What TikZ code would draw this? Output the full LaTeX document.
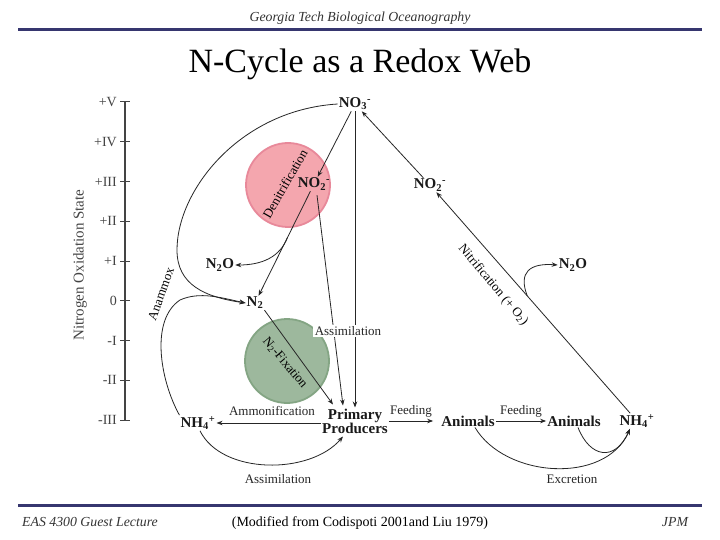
\documentclass[tikz,border=0pt]{standalone}
\usepackage{fontspec}
\setmainfont{Liberation Serif}
\usetikzlibrary{arrows.meta,calc}
\definecolor{navy}{HTML}{36366F}
\definecolor{redfill}{HTML}{F4A6AE}
\definecolor{redline}{HTML}{E8899A}
\definecolor{greenfill}{HTML}{9DB89D}
\definecolor{greenline}{HTML}{84A584}
\definecolor{axgray}{HTML}{444444}
\newcommand{\chemion}[3]{#1\textsubscript{#2}\textsuperscript{#3}}
\tikzset{
  lbl/.style={font=\fontsize{15}{14}\selectfont\bfseries, inner sep=1pt, text=black!90},
  sm/.style={font=\fontsize{13}{13}\selectfont, inner sep=1pt, text=black!85},
  arr/.style={draw=black!85, line width=0.8pt, -{Stealth[length=6pt,width=4.5pt]}},
  tick/.style={font=\fontsize{14}{14}\selectfont, text=axgray, anchor=east, inner sep=0pt},
  headtxt/.style={font=\fontsize{13.8}{14}\selectfont\itshape, text=black!80, inner sep=0pt},
  bigcirc/.style={circle, minimum size=84pt, inner sep=0pt, line width=1.8pt}
}
\begin{document}
\begin{tikzpicture}[x=1pt,y=-1pt]
\useasboundingbox (0,0) rectangle (720,540);
\fill[white] (0,0) rectangle (720,540);
% header / footer
\node[headtxt] (hdr) at (360,18) {Georgia Tech Biological Oceanography};
\draw[navy, line width=3pt] (18,30) -- (702,30);
\node[font=\fontsize{34}{34}\selectfont, inner sep=0pt] (title) at (360,64) {N-Cycle as a Redox Web};
\draw[navy, line width=3pt] (18,505) -- (702,505);
\node[headtxt, anchor=west] (ftl) at (22,522) {EAS 4300 Guest Lecture};
\node[font=\fontsize{14}{14}\selectfont, inner sep=0pt] (ftc) at (360,523) {(Modified from Codispoti 2001and Liu 1979)};
\node[headtxt] (ftr) at (675,522) {JPM};
% axis
\draw[axgray, line width=1.3pt] (125,102) -- (125,420);
\foreach \lab [count=\i from 0] in {+V,+IV,+III,+II,+I,0,-I,-II,-III} {
  \draw[axgray, line width=1pt] (120,102+39.75*\i) -- (130,102+39.75*\i);
  \node[tick] (t\i) at (117,102+39.75*\i) {\lab};
}
\node[font=\fontsize{15}{15}\selectfont, text=axgray, rotate=90, inner sep=0pt] (axlab) at (80,265) {Nitrogen Oxidation State};
% circles
\node[bigcirc, fill=redfill, draw=redline] (denit) at (288,185) {};
\node[bigcirc, fill=greenfill, draw=greenline] (nfix) at (287,361) {};
\node[font=\fontsize{13}{13}\selectfont, rotate=60, inner sep=0pt] (denitlab) at (285,184) {Denitrification};
\node[font=\fontsize{13}{13}\selectfont, rotate=-50, inner sep=0pt] (nfixlab) at (285,363) {N\textsubscript{2}-Fixation};
% species nodes
\node[lbl] (no3) at (355,104) {\chemion{NO}{3}{-}};
\node[lbl] (no2a) at (314,184) {\chemion{NO}{2}{-}};
\node[lbl] (no2b) at (430,185) {\chemion{NO}{2}{-}};
\node[lbl] (n2oa) at (220,265) {N\textsubscript{2}O};
\node[lbl] (n2ob) at (573,265) {N\textsubscript{2}O};
\node[lbl] (n2) at (255,303) {N\textsubscript{2}};
\node[lbl] (nh4a) at (198,423) {\chemion{NH}{4}{+}};
\node[lbl, align=center] (pp) at (355,421) {Primary\\Producers};
\node[lbl] (an1) at (468,421) {Animals};
\node[lbl] (an2) at (574,421) {Animals};
\node[lbl] (nh4b) at (637,421) {\chemion{NH}{4}{+}};
% denitrification
\draw[arr] (no3) -- (no2a);
\draw[arr] (no2a) -- (n2);
\coordinate (br) at ($(no2a)!0.45!(n2)$);
\draw[arr] (br) .. controls (280,257) and (262,265) .. (n2oa.east);
% assimilation of nitrate and nitrite
\draw[arr] (no3.south) -- (no3.south |- pp.north);
\draw[arr] ([xshift=3pt,yshift=-4pt]no2a.south) -- ([xshift=-12pt,yshift=2pt]pp.north);
\node[sm, fill=white, inner sep=1.5pt] (assim1) at (348,331) {Assimilation};
% N2 fixation
\draw[arr] (n2.south east) -- ([xshift=-22pt,yshift=3pt]pp.north);
% NO3 to N2 big curve
\draw[arr] (no3.west) .. controls (240,110) and (177,190) .. (177,250) .. controls (177,285) and (205,297) .. (n2.west);
% anammox
\draw[arr] (nh4a.north west) .. controls (160,380) and (150,320) .. (180,300) .. controls (200,291) and (222,298) .. (n2.west);
\node[font=\fontsize{13}{13}\selectfont, rotate=70, inner sep=0pt] (anamlab) at (161,294) {Anammox};
% ammonification
\draw[arr] (pp.west |- nh4a) -- (nh4a.east);
\node[sm] (ammlab) at (272,411) {Ammonification};
% assimilation of ammonium
\draw[arr] ([xshift=2pt]nh4a.south) .. controls (222,475) and (310,475) .. ([xshift=-12pt,yshift=-2pt]pp.south);
\node[sm] (assim2) at (278,479) {Assimilation};
% feeding
\draw[arr, shorten >=7pt] (pp.east |- an1) -- (an1.west);
\node[sm] (feed1) at (411,411) {Feeding};
\draw[arr] (an1.east) -- (an2.west);
\node[sm] (feed2) at (521,411) {Feeding};
% nitrification
\draw[arr] (nh4b) -- (no2b);
\draw[arr] (no2b) -- (no3);
\coordinate (nb) at ($(nh4b)!0.53!(no2b)$);
\draw[arr] (nb) .. controls (518,272) and (530,263) .. (n2ob.west);
\node[font=\fontsize{13}{13}\selectfont, rotate=-50, inner sep=0pt] (nitrlab) at (493,285) {Nitrification (+ O\textsubscript{2})};
% excretion
\draw[arr] ([xshift=7pt]an1.south) .. controls (505,478) and (605,485) .. ([xshift=-7pt]nh4b.south);
\draw[arr] ([xshift=4pt]an2.south) .. controls (590,458) and (615,462) .. ([xshift=-7pt]nh4b.south);
\node[sm] (excr) at (572,479) {Excretion};
\end{tikzpicture}
\end{document}
